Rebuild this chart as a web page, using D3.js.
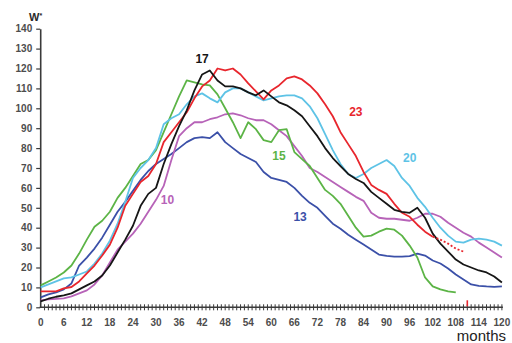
<!DOCTYPE html>
<html>
<head>
<meta charset="utf-8">
<script src="https://cdn.jsdelivr.net/npm/d3@7"></script>
<style>
  html, body { margin: 0; padding: 0; background: #fff; }
  svg { display: block; }
</style>
</head>
<body>
<svg id="chart" width="512" height="343"></svg>
<script>
// Sampling grid (months) shared by every series
const months = [0, 2, 4, 6, 8, 10, 12, 14, 16, 18, 20, 22, 24, 26, 28, 30, 32, 34, 36, 38,
  40, 42, 44, 46, 48, 50, 52, 54, 56, 58, 60, 62, 64, 66, 68, 70, 72, 74, 76, 78,
  80, 82, 84, 86, 88, 90, 92, 94, 96, 98, 100, 102, 104, 106, 108, 110, 112, 114, 116, 118, 120];

const xTickLabels = [0, 6, 12, 18, 24, 30, 36, 42, 48, 54, 60, 66, 72, 78, 84, 90, 96, 102, 108, 114, 120];
const yTickLabels = [0, 10, 20, 30, 40, 50, 60, 70, 80, 90, 100, 110, 120, 130, 140];

// Series values, one per grid month (null = no observation)
const s17 = [3, 4.3, 5.3, 6, 7, 9, 11, 13, 16, 21, 27.5, 34, 41, 51, 57, 60, 72, 82, 91, 99,
  109, 117, 119, 114, 111, 111, 110, 108, 106.5, 109, 106, 103, 101.5, 99, 96, 91, 86, 80, 75, 71,
  67, 64.5, 62.5, 58, 55, 52, 49, 48, 47.5, 50, 45, 37, 32, 28, 24, 21.5, 20, 18.5, 17.5, 15.5, 12.5];

const s23 = [8, 8, 8, 9.5, 10.2, 13, 17, 21, 26, 31.5, 40, 51, 57, 63, 66, 72, 83, 88, 93, 98,
  105, 111, 114, 120, 119, 120, 117, 112.5, 108.5, 104.5, 109, 111.5, 115, 116, 114.5, 111.5, 107.5, 102, 96, 88,
  82, 76, 68, 61.5, 59, 57, 52, 47.5, 45.5, 41.5, 38, 35.5, null, null, null, null, null, null, null, null, null];

// Dotted continuation of series 23
const s23Projected = [null, null, null, null, null, null, null, null, null, null, null, null, null, null, null, null, null, null, null, null,
  null, null, null, null, null, null, null, null, null, null, null, null, null, null, null, null, null, null, null, null,
  null, null, null, null, null, null, null, null, null, null, null, 35.5, 34, 32, 29.5, 28, null, null, null, null, null];

const s20 = [10, 11.5, 13, 14.5, 15, 16.5, 18, 22, 27, 33.5, 42, 53, 65, 70, 74, 80, 92, 95, 97, 102,
  106, 107.5, 105, 103, 108, 110, 110, 108, 106, 104, 105, 106, 106.5, 106.5, 105, 101, 95, 87, 79, 72,
  67, 65, 67, 70, 72, 74, 71, 65, 61, 55, 50.5, 45, 40, 36, 33, 32.5, 34, 34.5, 34, 33, 31];

const s15 = [11, 13, 15, 17.5, 21, 27, 34, 40.5, 43.5, 48, 55, 60, 66, 72, 74, 79, 88, 97, 106, 114,
  113, 112, 111.5, 107, 100, 93, 85, 93, 89.5, 84, 83, 89, 89.5, 78, 74.5, 71, 65, 59, 56, 52,
  46, 40, 35.5, 36, 38, 39.5, 39, 36, 31, 25, 15, 10.5, 9, 8, 7.5, null, null, null, null, null, null];

const s10 = [3.5, 4, 4.3, 4.5, 5.5, 7, 8.5, 11.5, 16, 22.5, 29, 33, 37, 42, 48, 54, 61, 74, 86, 90,
  93, 93, 94.5, 95.5, 97, 97.5, 96.5, 95, 94, 94, 92, 89, 86, 81, 76, 70, 68, 65.5, 63, 60.5,
  58, 55.5, 53.5, 47.5, 45, 44.5, 44.5, 44, 43.5, 45, 47, 47, 45.5, 42.5, 40, 37.5, 35.5, 32.5, 30, 27.5, 25];

const s13 = [5, 6.5, 7.5, 9, 12, 21, 25, 29.5, 35, 41.5, 48, 53, 58.5, 64, 68.5, 72, 74.5, 77, 80, 83,
  85, 85.5, 85, 88, 83, 80, 77, 75, 73, 68, 65, 64, 63, 60, 56, 52.5, 50, 46, 42, 39.5,
  36.5, 34, 31.5, 29, 26.5, 25.8, 25.5, 25.5, 25.7, 27, 26, 23.5, 22, 19.5, 16.5, 14, 11.5, 10.8, 10.5, 10.3, 10.5];

const seriesNames = ["13", "10", "15", "20", "23", "17"];
const seriesValues = [s13, s10, s15, s20, s23, s17];
const seriesColors = ["#3b50a8", "#b763b8", "#5cb446", "#5ec3e6", "#e8262d", "#161616"];
// Where each series number is written (month, value)
const labelMonth = [67.5, 33, 62, 96, 82, 42];
const labelValue = [45.5, 54, 76, 75, 98, 125];

const markerMonth = 111; // red reference mark on the month axis

const svg = d3.select("#chart");

const x = d3.scaleLinear().domain([0, 120]).range([40.7, 501.9]);
const y = d3.scaleLinear().domain([0, 140]).range([307.3, 28.7]);

const axisColor = "#3a3a3a";
const labelFont = "'Liberation Sans', Arial, sans-serif";

// Y axis
const yAxis = svg.append("g")
  .attr("transform", `translate(${x(0) - 0.5},0)`)
  .call(d3.axisLeft(y).tickValues(yTickLabels).tickSize(4).tickSizeOuter(0).tickPadding(4));
yAxis.select(".domain").attr("stroke", axisColor).attr("stroke-width", 1.6);
yAxis.selectAll(".tick line").attr("stroke", axisColor).attr("stroke-width", 1.2);
yAxis.selectAll(".tick text")
  .attr("fill", "#4d4d4d").attr("font-family", labelFont)
  .attr("font-size", 10).attr("font-weight", "bold");

// X axis: a tick every month crossing the line, labels every six months
const xAxisG = svg.append("g").attr("transform", `translate(0,${y(0)})`);
xAxisG.append("line")
  .attr("x1", x(0) - 1).attr("x2", x(120) + 1)
  .attr("stroke", axisColor).attr("stroke-width", 1.4);
xAxisG.selectAll("line.mt")
  .data(d3.range(1, 121))
  .join("line")
  .attr("class", "mt")
  .attr("x1", d => x(d)).attr("x2", d => x(d))
  .attr("y1", -3).attr("y2", 3)
  .attr("stroke", axisColor).attr("stroke-width", 1);
xAxisG.selectAll("text")
  .data(xTickLabels)
  .join("text")
  .attr("x", d => x(d)).attr("y", 19)
  .attr("text-anchor", "middle")
  .attr("fill", "#4d4d4d").attr("font-family", labelFont)
  .attr("font-size", 10).attr("font-weight", "bold")
  .text(d => d);

// Red reference mark
svg.append("line")
  .attr("x1", x(markerMonth)).attr("x2", x(markerMonth))
  .attr("y1", y(0) - 7).attr("y2", y(0) - 1)
  .attr("stroke", "#e8262d").attr("stroke-width", 1.6);

// Axis titles
const wLabel = svg.append("text")
  .attr("x", 29).attr("y", 21)
  .attr("font-family", labelFont).attr("font-size", 11).attr("font-weight", "bold")
  .attr("fill", "#2a2a2a");
wLabel.append("tspan").text("W");
wLabel.append("tspan").attr("font-size", 7).attr("dy", -3).text("*");

svg.append("text")
  .attr("x", 506).attr("y", 341)
  .attr("text-anchor", "end")
  .attr("font-family", labelFont).attr("font-size", 15)
  .attr("fill", "#222")
  .text("months");

// Lines
const line = d3.line()
  .defined(d => d[1] !== null)
  .x(d => x(d[0]))
  .y(d => y(d[1]));

seriesValues.forEach((vals, i) => {
  svg.append("path")
    .datum(months.map((m, j) => [m, vals[j]]))
    .attr("fill", "none")
    .attr("stroke", seriesColors[i])
    .attr("stroke-width", 1.8)
    .attr("stroke-linejoin", "round")
    .attr("d", line);
});

svg.append("path")
  .datum(months.map((m, j) => [m, s23Projected[j]]))
  .attr("fill", "none")
  .attr("stroke", "#e8262d")
  .attr("stroke-width", 1.8)
  .attr("stroke-dasharray", "2,2")
  .attr("d", line);

// Series numbers
svg.selectAll("text.series")
  .data(seriesNames)
  .join("text")
  .attr("class", "series")
  .attr("x", (d, i) => x(labelMonth[i]))
  .attr("y", (d, i) => y(labelValue[i]))
  .attr("text-anchor", "middle")
  .attr("dominant-baseline", "central")
  .attr("font-family", labelFont).attr("font-size", 12).attr("font-weight", "bold")
  .attr("fill", (d, i) => seriesColors[i])
  .text(d => d);
</script>
</body>
</html>
